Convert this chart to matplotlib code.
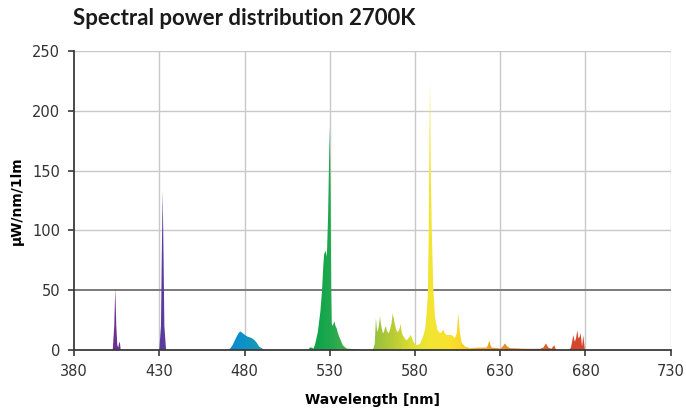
import matplotlib
matplotlib.use("Agg")
import matplotlib.pyplot as plt
import numpy as np
from matplotlib.colors import LinearSegmentedColormap
from matplotlib.patches import Polygon

# spectrum (nm, uW/nm/1lm)
wavelength = [
    380, 402.7, 403.6, 404.2, 404.8, 405.4, 406.0, 406.5, 407.0, 407.4,
    430.0, 431.0, 431.5, 432.0, 432.5, 433.0, 434.0,
    470.0, 471.5, 473.0, 475.0, 476.5, 477.4, 478.5, 480.3, 482.0, 484.2, 486.0, 487.2, 488.5, 490.0, 492.0,
    517.5, 518.3, 519.5, 520.3, 521.3, 523.0, 524.5, 525.5, 526.2, 526.7, 527.6, 528.3, 529.0, 529.5, 530.0,
    530.5, 530.9, 531.2, 531.6, 532.2, 532.7, 533.4, 534.1, 534.8, 535.6, 536.5, 537.6, 539.9, 543.0, 546.6, 547.2,
    553.5, 555.5, 556.4, 557.1, 557.6, 558.1, 558.8, 559.5, 560.0, 560.5, 561.2, 561.8, 562.3, 563.0, 563.5,
    564.0, 564.7, 565.3, 566.2, 566.9, 567.6, 568.3, 569.0, 569.6, 570.5, 571.2, 571.6, 572.2, 572.8, 573.8,
    575.1, 576.3, 577.5, 578.3, 579.0, 580.0, 581.0, 582.0, 582.9, 583.8, 584.7, 585.9, 586.8, 587.5, 588.0,
    588.4, 588.8, 589.2, 589.8, 590.7, 591.7, 593.1, 594.7, 595.6, 596.6, 597.5, 598.6, 600.0, 601.5, 603.5,
    604.5, 605.4, 606.0, 606.4, 607.4, 609.3, 612.3, 617.0, 622.0, 622.8, 623.6, 624.3, 625.0, 628.7, 630.0,
    631.5, 632.8, 634.0, 635.7, 645.0, 653.3, 655.3, 656.8, 658.2, 660.0, 661.7, 662.5, 663.1,
    670.5, 671.5, 672.3, 672.9, 673.5, 673.8, 674.5, 675.2, 675.7, 676.0, 676.6, 677.2, 677.7, 678.0, 678.4,
    678.7, 679.2, 679.7, 730,
]
power = [
    0, 0, 20, 52, 20, 4, 2, 7, 5, 0,
    0, 20, 80, 133, 80, 20, 0,
    0, 1, 4, 10, 14, 15.5, 14.5, 12.5, 11, 10, 8, 6, 3, 1.5, 0,
    0, 2, 2, 1, 4, 15, 32, 50, 70, 80, 83, 78, 110, 150, 187,
    130, 50, 22, 20, 22, 24, 20, 18, 14, 11, 8, 4, 1.2, 0.8, 0.5, 0,
    0, 1, 5, 27, 18, 15, 20, 28, 22, 18, 14, 15, 18, 20, 16,
    15, 14, 17, 22, 30.5, 26, 21, 17, 15, 16, 19, 22, 15, 12.5, 10,
    8, 10, 12.5, 10, 7, 5, 4, 4.5, 5, 8, 11, 17, 30, 45, 90,
    160, 225, 160, 103, 53, 28, 17, 14, 15, 17, 14, 12.5, 12.5, 12.5, 10,
    14, 31, 20, 14, 6, 3, 1.5, 2, 2, 4, 8, 4, 2, 1.5, 1,
    3, 5.5, 3, 1.5, 1, 1, 2, 5.5, 2, 1, 4, 1, 0,
    0, 2, 8, 12.5, 8, 7, 10, 16.5, 11, 9.7, 11, 14, 7, 3, 8,
    12.5, 6, 0, 0,
]

x_ticks = [380, 430, 480, 530, 580, 630, 680, 730]
y_ticks = [0, 50, 100, 150, 200, 250]

# colour of the fill along the wavelength axis
spectrum_stops = [
    (380, "#7b3294"), (404, "#6c3190"), (432, "#5a3c9e"), (460, "#1a78c0"),
    (476, "#0a8fcd"), (490, "#1a9ab0"), (515, "#00a046"), (530, "#1fa84e"),
    (545, "#5cb246"), (557, "#98c23c"), (568, "#bccd36"), (578, "#dcde30"),
    (588, "#f2e532"), (600, "#f8e22e"), (608, "#fbd424"), (618, "#f6ae24"),
    (632, "#f08c22"), (655, "#e26628"), (672, "#d8472c"), (730, "#d03c2c"),
]

plt.rcParams["font.family"] = ["DejaVu Sans"]

fig = plt.figure(figsize=(6.86, 4.16), dpi=100)
ax = fig.add_axes([0.1079, 0.1587, 0.8698, 0.7187])

xmin, xmax = x_ticks[0], x_ticks[-1]
ymin, ymax = y_ticks[0], y_ticks[-1]

cmap = LinearSegmentedColormap.from_list(
    "spd", [((w - xmin) / (xmax - xmin), c) for w, c in spectrum_stops])

# grid
for xv in x_ticks[1:]:
    ax.axvline(xv, color="#c8c8c8", lw=1.0, zorder=0)
for yv in y_ticks[1:]:
    if yv == 50:
        ax.axhline(yv, color="#7a7a7a", lw=1.4, zorder=0.5)
    else:
        ax.axhline(yv, color="#c8c8c8", lw=1.0, zorder=0)

# gradient fill clipped to the spectrum outline
verts = np.column_stack([wavelength, power])
verts = np.vstack([[wavelength[0], 0], verts, [wavelength[-1], 0]])
outline = Polygon(verts, closed=True, facecolor="none", edgecolor="none")
ax.add_patch(outline)
grad = np.linspace(0, 1, 700).reshape(1, -1)
im = ax.imshow(grad, cmap=cmap, extent=[xmin, xmax, ymin, ymax],
               aspect="auto", origin="lower", zorder=2, interpolation="bilinear")
im.set_clip_path(outline)

ax.set_xlim(xmin, xmax)
ax.set_ylim(ymin, ymax)
ax.set_xticks(x_ticks)
ax.set_yticks(y_ticks)

for s in ["top", "right"]:
    ax.spines[s].set_visible(False)
for s in ["left", "bottom"]:
    ax.spines[s].set_color("#3a3a3a")
    ax.spines[s].set_linewidth(1.3)
    ax.spines[s].set_zorder(3)
ax.tick_params(axis="both", colors="#3a3a3a", labelcolor="#333333",
               labelsize=10.5, length=4, width=1.2, pad=6)

ax.set_xlabel("Wavelength [nm]", fontsize=10, fontweight="bold", labelpad=10)
ax.set_ylabel("\u03bcW/nm/1lm", fontsize=10, fontweight="bold", labelpad=6)

fig.text(0.106, 0.955, "Spectral power distribution 2700K", fontsize=16,
         fontweight="bold", family="Lato", ha="left", va="center", color="#1a1a1a")

fig.savefig("out.png", dpi=100)
